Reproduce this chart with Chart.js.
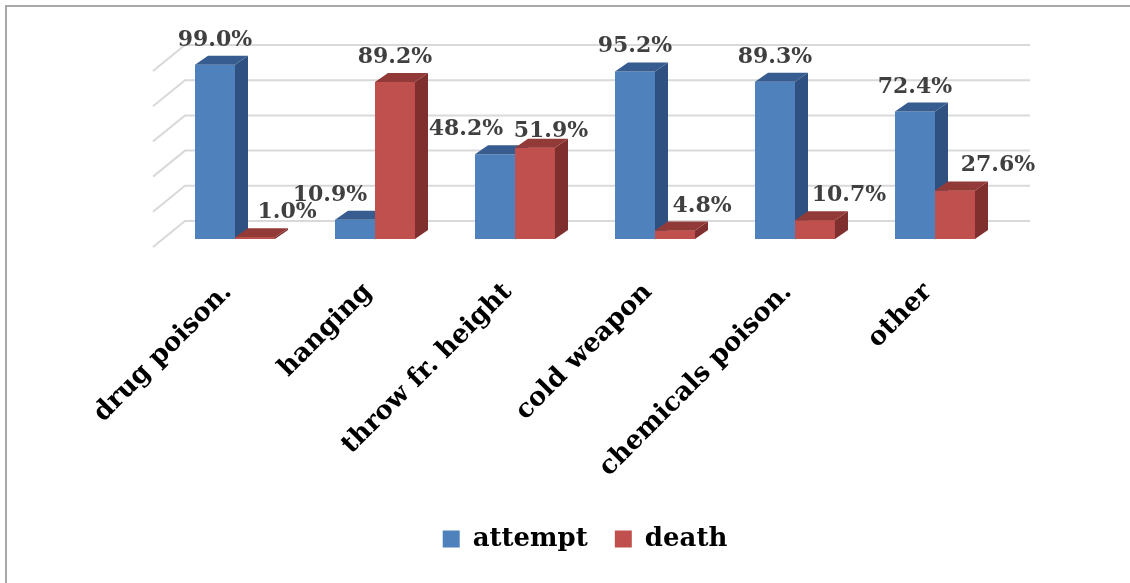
<!DOCTYPE html>
<html>
<head>
<meta charset="utf-8">
<script src="https://cdn.jsdelivr.net/npm/chart.js@4.4.0/dist/chart.umd.min.js"></script>
<style>
  html, body { margin: 0; padding: 0; background: #fff; }
  #wrap { position: relative; width: 1130px; height: 583px; overflow: hidden; }
  #frame { position: absolute; left: 5px; top: 5px; right: -10px; bottom: -10px;
           border-left: 2px solid #a8a8a8; border-top: 2px solid #a8a8a8; pointer-events: none; }
</style>
</head>
<body>
<div id="wrap">
  <canvas id="chart" width="1130" height="583"></canvas>
  <div id="frame"></div>
</div>
<script>
// Suicide method breakdown: share of attempts vs deaths (%)
const categories = ['drug poison.', 'hanging', 'throw fr. height', 'cold weapon', 'chemicals poison.', 'other'];
const attempt = [99.0, 10.9, 48.2, 95.2, 89.3, 72.4];
const death = [1.0, 89.2, 51.9, 4.8, 10.7, 27.6];
const gridValues = [0, 20, 40, 60, 80, 100];

const FONT = "'DejaVu Serif', 'Liberation Serif', serif";

// Pseudo-3D: bar depth and back-wall offset
const BAR_DX = 13, BAR_DY = 9;
const WALL_DX = 20, WALL_DY = 18;
const FLOOR_DX = -12, FLOOR_DY = 8;

const wallPlugin = {
  id: 'wall',
  beforeDatasetsDraw(chart) {
    const { ctx, chartArea: a } = chart;
    const ys = chart.scales.y;
    ctx.save();
    ctx.strokeStyle = '#d9d9d9';
    ctx.lineWidth = 2;
    gridValues.forEach(v => {
      const y = ys.getPixelForValue(v);
      const bx = a.left + WALL_DX, by = y - WALL_DY;
      ctx.beginPath();
      ctx.moveTo(a.left + FLOOR_DX, y + FLOOR_DY);
      ctx.lineTo(bx, by);
      ctx.lineTo(a.right + 25, by);
      ctx.stroke();
    });
    ctx.restore();
  }
};

// Side and top faces; later series are re-drawn over earlier ones' side faces
const depthPlugin = {
  id: 'depth',
  afterDatasetsDraw(chart) {
    const { ctx } = chart;
    ctx.save();
    chart.data.datasets.forEach((ds, di) => {
      const meta = chart.getDatasetMeta(di);
      meta.data.forEach(el => {
        if (di > 0) el.draw(ctx);
        const p = el.getProps(['x', 'y', 'base', 'width'], true);
        const l = p.x - p.width / 2, r = p.x + p.width / 2;
        const t = Math.min(p.y, p.base), b = Math.max(p.y, p.base);
        ctx.fillStyle = ds.sideColor;
        ctx.beginPath();
        ctx.moveTo(r, t);
        ctx.lineTo(r + BAR_DX, t - BAR_DY);
        ctx.lineTo(r + BAR_DX, b - BAR_DY);
        ctx.lineTo(r, b);
        ctx.closePath();
        ctx.fill();
        ctx.fillStyle = ds.topColor;
        ctx.beginPath();
        ctx.moveTo(l, t);
        ctx.lineTo(l + BAR_DX, t - BAR_DY);
        ctx.lineTo(r + BAR_DX, t - BAR_DY);
        ctx.lineTo(r, t);
        ctx.closePath();
        ctx.fill();
      });
    });
    ctx.restore();
  }
};

const valueLabelPlugin = {
  id: 'valueLabels',
  afterDraw(chart, args, opts) {
    const { ctx } = chart;
    ctx.save();
    ctx.font = 'bold 22px ' + FONT;
    ctx.fillStyle = '#404040';
    ctx.textAlign = 'center';
    ctx.textBaseline = 'alphabetic';
    chart.data.datasets.forEach((ds, di) => {
      const meta = chart.getDatasetMeta(di);
      const shifts = opts.shift[di];
      meta.data.forEach((el, i) => {
        const [sx, sy] = shifts[i];
        ctx.fillText(ds.data[i].toFixed(1) + '%', el.x + sx, el.y - 19 + sy);
      });
    });
    ctx.restore();
  }
};

new Chart(document.getElementById('chart'), {
  type: 'bar',
  data: {
    labels: categories,
    datasets: [
      { label: 'attempt', data: attempt, backgroundColor: '#4f81bd', borderWidth: 0,
        sideColor: '#2f5181', topColor: '#375d90' },
      { label: 'death', data: death, backgroundColor: '#c0504d', borderWidth: 0,
        sideColor: '#7f2f2d', topColor: '#923a37' }
    ]
  },
  options: {
    responsive: false,
    animation: false,
    events: [],
    layout: { padding: { left: 165, right: 125, top: 63, bottom: 21 } },
    datasets: { bar: { categoryPercentage: 0.5714, barPercentage: 1 } },
    scales: {
      x: {
        grid: { display: false },
        border: { display: false },
        ticks: {
          autoSkip: false, minRotation: 45, maxRotation: 45, padding: 30, labelOffset: -7,
          color: '#000', font: { family: FONT, size: 26, weight: 'bold' }
        },
        afterFit(scale) { scale.height = 260; }
      },
      y: { display: false, min: 0, max: 100 }
    },
    plugins: {
      legend: {
        position: 'bottom',
        labels: {
          boxWidth: 17, boxHeight: 17, padding: 27, color: '#000',
          font: { family: FONT, size: 26, weight: 'bold' }
        }
      },
      tooltip: { enabled: false },
      valueLabels: {
        shift: [
          [[0, 0], [-25, 0], [-29, 0], [0, 0], [0, 0], [0, 0]],
          [[32, 0], [0, 0], [16, 8], [27, 0], [34, 0], [43, 0]]
        ]
      }
    }
  },
  plugins: [wallPlugin, depthPlugin, valueLabelPlugin]
});
</script>
</body>
</html>
